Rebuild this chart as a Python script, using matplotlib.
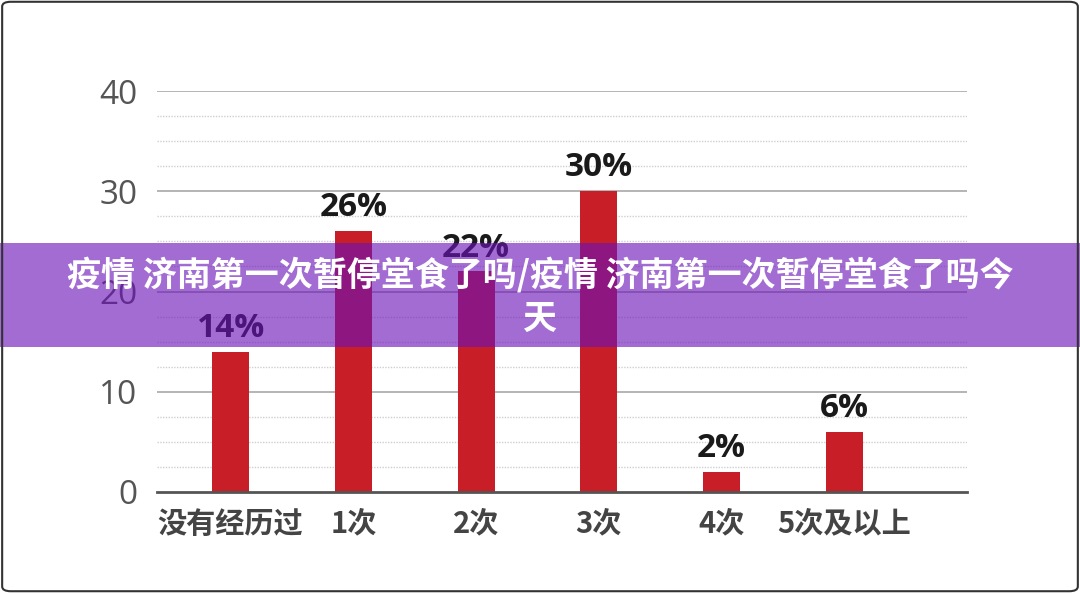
import matplotlib
matplotlib.use("Agg")
import matplotlib.pyplot as plt
from matplotlib.patches import Rectangle, FancyBboxPatch

plt.rcParams['font.family'] = ['Noto Sans CJK SC', 'DejaVu Sans']

# data
categories = ['没有经历过', '1次', '2次', '3次', '4次', '5次及以上']
values = [14, 26, 22, 30, 2, 6]
labels = ['14%', '26%', '22%', '30%', '2%', '6%']
yticks = [0, 10, 20, 30, 40]
minor_ticks = [2.5, 5, 7.5, 12.5, 15, 17.5, 22.5, 25, 27.5, 32.5, 35, 37.5]
title = '疫情 济南第一次暂停堂食了吗/疫情 济南第一次暂停堂食了吗今\n天'

fig = plt.figure(figsize=(10.8, 5.93), dpi=100)
fig.patch.set_facecolor('white')

ax = fig.add_axes([157/1080, 101/593, 810/1080, 401/593])
ax.set_facecolor('white')

x = list(range(len(categories)))
# grid lines
for t in minor_ticks:
    ax.axhline(t, color='#cfcfcf', lw=1.0, ls=(0, (1, 1)), zorder=0)
for t in yticks[1:]:
    ax.axhline(t, color='#a8a8a8', lw=1.2, zorder=0)

ax.bar(x, values, width=0.3, color='#c81e28', zorder=2)
for xi, v, lab in zip(x, values, labels):
    ax.annotate(lab, (xi, v), xytext=(0, 5), textcoords='offset points',
                ha='center', va='bottom', fontsize=24, fontweight='bold',
                color='#1a1a1a', family=['Open Sans', 'DejaVu Sans'], zorder=3)

ax.set_xlim(-0.6, 6.0)
ax.set_ylim(0, 40)
ax.set_yticks(yticks)
ax.set_yticklabels([str(t) for t in yticks], fontsize=24, color='#555555',
                   family=['Open Sans', 'DejaVu Sans'])
ax.set_xticks(x)
ax.set_xticklabels(categories, fontsize=21, fontweight='heavy', color='#444444')
ax.tick_params(axis='y', length=0, pad=14)
ax.tick_params(axis='x', length=0, pad=12)
for s in ['top', 'right', 'left']:
    ax.spines[s].set_visible(False)
ax.spines['bottom'].set_color('#555555')
ax.spines['bottom'].set_linewidth(2)

# purple title banner across the middle
fig.patches.append(Rectangle((0, 1 - 347/593), 1, 104/593, transform=fig.transFigure,
                             facecolor='#6a12b8', alpha=0.62, edgecolor='none', zorder=5))
fig.text(0.5, 1 - 296/593, title, ha='center', va='center', fontsize=24.5,
         fontweight='heavy', color='white', linespacing=1.3, zorder=6)

# thin rounded frame around the picture
fig.patches.append(FancyBboxPatch((0.002, 0.003), 0.996, 0.994,
                                  boxstyle='round,pad=0,rounding_size=0.008',
                                  transform=fig.transFigure, facecolor='none',
                                  edgecolor='#333333', lw=1.5, zorder=7))

fig.savefig('out.png', dpi=100)
